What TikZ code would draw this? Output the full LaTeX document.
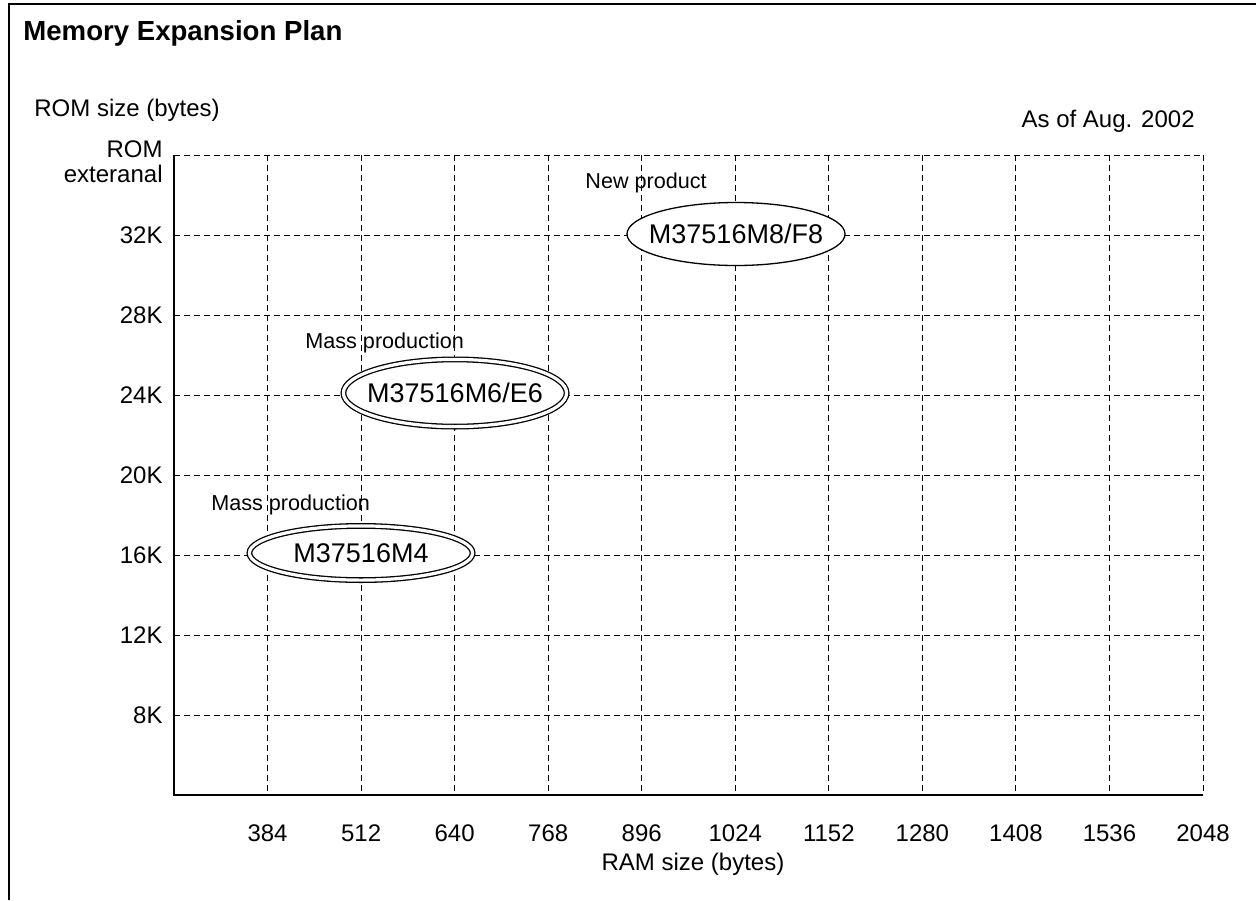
\documentclass[tikz,border=0pt]{standalone}
\usepackage{fontspec}
\setmainfont{Liberation Sans}

\begin{document}
\begin{tikzpicture}[x=0.5pt, y=-0.5pt, font=\fontsize{12}{14.5}\selectfont,
  every node/.style={inner sep=0pt},
  grid/.style={dash pattern=on 3pt off 2pt, line width=0.5pt},
  axis/.style={line width=0.75pt},
  chip/.style={draw, line width=0.65pt, fill=white},
  masschip/.style={chip, double, double distance=1.6pt},
  partno/.style={font=\fontsize{13.5}{16}\selectfont},
  status/.style={font=\fontsize{10.8}{13}\selectfont}]

	\useasboundingbox (0,0) rectangle (1256,900);

	% frame and title
	\draw[line width=1pt] (9,900) -- (9,4) -- (1256,4);
	\node[anchor=base west, font=\fontsize{13.8}{16}\selectfont\bfseries] (title) at (23,40) {Memory Expansion Plan};

	\node[anchor=base west] (romaxis) at (34,116) {ROM size (bytes)};
	\node[anchor=base east] (asof) at (1195,127) {As of Aug. 2002};
	\node[anchor=base east] (romext) at (163,157) {ROM};
	\node[anchor=base east] (romext2) at (163,182) {exteranal};

	% grid
	\foreach \j in {0,...,7}
		\draw[grid] (174,{155+80*\j}) -- (1203,{155+80*\j});
	\foreach \ram [count=\i] in {384,512,640,768,896,1024,1152,1280,1408,1536,2048} {
		\draw[grid] ({174+93.545*\i},155) -- ({174+93.545*\i},795);
		\node (ram\i) at ({174+93.545*\i},833) {\ram};
	}
	\foreach \rom [count=\j] in {32K,28K,24K,20K,16K,12K,8K}
		\node[anchor=east] (rom\j) at (163,{155+80*\j}) {\rom};

	\draw[axis] (174,155) -- (174,795) -- (1203,795);
	\node[anchor=base] (ramaxis) at (693,870) {RAM size (bytes)};

	% products
	\coordinate (m8) at (736,234);
	\coordinate (m6) at (455,393);
	\coordinate (m4) at (361,553);

	\draw[chip] (m8) ellipse [x radius=54.5pt, y radius=15.75pt];
	\draw[masschip] (m6) ellipse [x radius=55.8pt, y radius=16.8pt];
	\draw[masschip] (m4) ellipse [x radius=55.8pt, y radius=13.55pt];

	\node[partno] (m8text) at (m8) {M37516M8/F8};
	\node[partno] (m6text) at (m6) {M37516M6/E6};
	\node[partno] (m4text) at (m4) {M37516M4};

	\node[status, anchor=base west] (newprod) at (585,188) {New product};
	\node[status, anchor=base west] (mass6) at (305,348) {Mass production};
	\node[status, anchor=base west] (mass4) at (211,510) {Mass production};

\end{tikzpicture}
\end{document}
